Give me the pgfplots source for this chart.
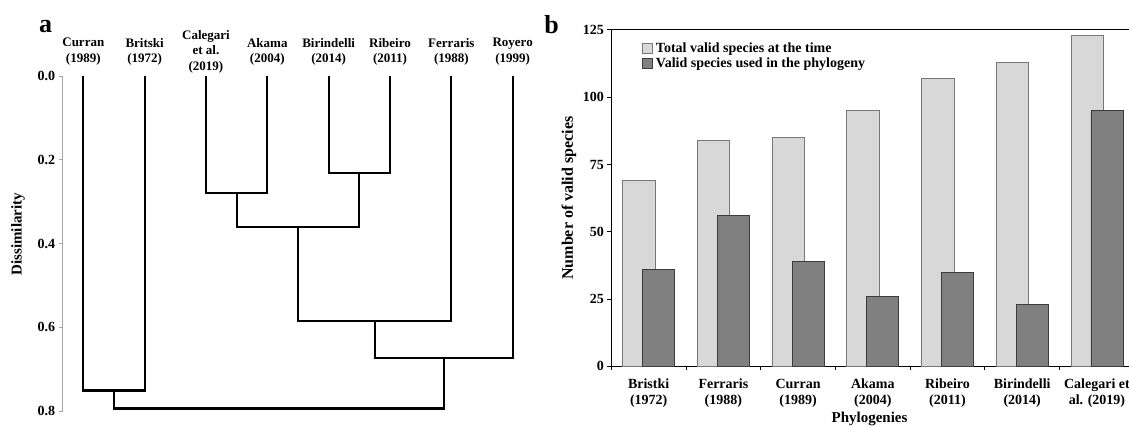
\documentclass[border=0pt]{standalone}
\usepackage{pgfplots}
\pgfplotsset{compat=1.18}
\usepackage{fontspec}
\setmainfont{Liberation Serif}
\definecolor{lightbar}{RGB}{216,216,216}
\definecolor{lightedge}{RGB}{120,120,120}
\definecolor{darkbar}{RGB}{128,128,128}
\definecolor{darkedge}{RGB}{60,60,60}
\definecolor{axgray}{RGB}{165,165,165}
\begin{document}
\begin{tikzpicture}[x=1pt,y=1pt]
\path[use as bounding box] (0,0) rectangle (1129,426);
% ---------------- panel a: dendrogram ----------------
\begin{axis}[
  scale only axis, width=474.5pt, height=335pt,
  at={(62.7pt,15pt)}, anchor=south west,
  xmin=0.664, xmax=8.4, ymin=0, ymax=0.8, y dir=reverse,
  axis x line=none, axis y line=left,
  axis line style={-, draw=axgray, line width=1pt},
  ytick={0,0.2,0.4,0.6,0.8},
  y tick style={draw=axgray, line width=0.8pt},
  tick align=outside, major tick length=4pt,
  /pgf/number format/assume math mode=true,
  yticklabel style={font=\bfseries\fontsize{14}{16}\selectfont,
    /pgf/number format/fixed, /pgf/number format/fixed zerofill,
    /pgf/number format/precision=1},
  every axis y label/.style={at={(axis description cs:-0.094,0.528)}, anchor=center, rotate=90,
    font=\bfseries\fontsize{15}{17}\selectfont},
  ylabel={Dissimilarity},
  clip=false,
]
\addplot[black, line width=2.2pt] coordinates {(1,0) (1,0.751) (2,0.751) (2,0)};
\addplot[black, line width=2.2pt] coordinates {(3,0) (3,0.279) (4,0.279) (4,0)};
\addplot[black, line width=2.2pt] coordinates {(5,0) (5,0.232) (6,0.232) (6,0)};
\addplot[black, line width=2.2pt] coordinates {(3.5,0.279) (3.5,0.361) (5.5,0.361) (5.5,0.232)};
\addplot[black, line width=2.2pt] coordinates {(4.5,0.361) (4.5,0.586) (7,0.586) (7,0)};
\addplot[black, line width=2.2pt] coordinates {(5.75,0.586) (5.75,0.673) (8,0.673) (8,0)};
\addplot[black, line width=2.2pt] coordinates {(1.5,0.751) (1.5,0.794) (6.875,0.794) (6.875,0.673)};
\begin{scope}[every node/.style={font=\bfseries\fontsize{13}{15.5}\selectfont, align=center, anchor=center}]
\node at (axis cs:1,-0.058) {Curran\\(1989)};
\node at (axis cs:2,-0.058) {Britski\\(1972)};
\node at (axis cs:3,-0.058) {Calegari\\et al.\\(2019)};
\node at (axis cs:4,-0.058) {Akama\\(2004)};
\node at (axis cs:5,-0.058) {Birindelli\\(2014)};
\node at (axis cs:6,-0.058) {Ribeiro\\(2011)};
\node at (axis cs:7,-0.058) {Ferraris\\(1988)};
\node at (axis cs:8,-0.058) {Royero\\(1999)};
\end{scope}
\end{axis}
% ---------------- panel b: bars ----------------
\begin{axis}[
  scale only axis, width=523pt, height=336.3pt,
  at={(611.3pt,59.7pt)}, anchor=south west,
  xmin=-0.5, xmax=6.5, ymin=0, ymax=125,
  ytick={0,25,50,75,100,125}, ytick pos=left,
  xtick={0,1,2,3,4,5,6}, xtick pos=bottom,
  xticklabels={Bristki\\(1972), Ferraris\\(1988), Curran\\(1989), Akama\\(2004), Ribeiro\\(2011), Birindelli\\(2014), Calegari et\\al. (2019)},
  major x tick style={draw=none},
  minor xtick={-0.5,0.5,1.5,2.5,3.5,4.5,5.5,6.5},
  tick align=outside, major tick length=4pt, minor tick length=4pt,
  axis line style={black, line width=1pt},
  tick style={black, line width=1pt},
  /pgf/number format/assume math mode=true,
  yticklabel style={font=\bfseries\fontsize{14}{16}\selectfont},
  xticklabel style={font=\bfseries\fontsize{14}{16}\selectfont, align=center, yshift=-5pt},
  every axis y label/.style={at={(axis description cs:-0.081,0.5)}, anchor=center, rotate=90,
    font=\bfseries\fontsize{16}{18}\selectfont},
  ylabel={Number of valid species},
  every axis x label/.style={at={(axis description cs:0.4937,0)}, anchor=base, yshift=-55.7pt,
    font=\bfseries\fontsize{15}{17}\selectfont},
  xlabel={Phylogenies},
  legend style={at={(axis description cs:0.058,0.966)}, anchor=north west, draw=none, fill=none,
    font=\bfseries\fontsize{14}{16}\selectfont, inner sep=0pt, row sep=2pt, column sep=2.5pt,
    nodes={inner sep=1pt}},
  legend cell align=left,
  clip=false,
]
\addplot[ybar, bar width=32.5pt, bar shift=-9.7pt, fill=lightbar, draw=lightedge, line width=0.9pt,
  legend image code/.code={\draw[fill=lightbar, draw=lightedge, line width=0.6pt] (0pt,-5pt) rectangle (10pt,5pt);}]
  coordinates {(0,69) (1,84) (2,85) (3,95) (4,107) (5,113) (6,123)};
\addlegendentry{Total valid species at the time}
\addplot[ybar, bar width=32pt, bar shift=10pt, fill=darkbar, draw=darkedge, line width=0.9pt,
  legend image code/.code={\draw[fill=darkbar, draw=darkedge, line width=0.6pt] (0pt,-5pt) rectangle (10pt,5pt);}]
  coordinates {(0,36) (1,56) (2,39) (3,26) (4,35) (5,23) (6,95)};
\addlegendentry{Valid species used in the phylogeny}
\end{axis}
\node[anchor=base, font=\bfseries\fontsize{26}{30}\selectfont] at (45.5,393.3) {a};
\node[anchor=base, font=\bfseries\fontsize{26}{30}\selectfont] at (551.5,392.7) {b};
\end{tikzpicture}
\end{document}
